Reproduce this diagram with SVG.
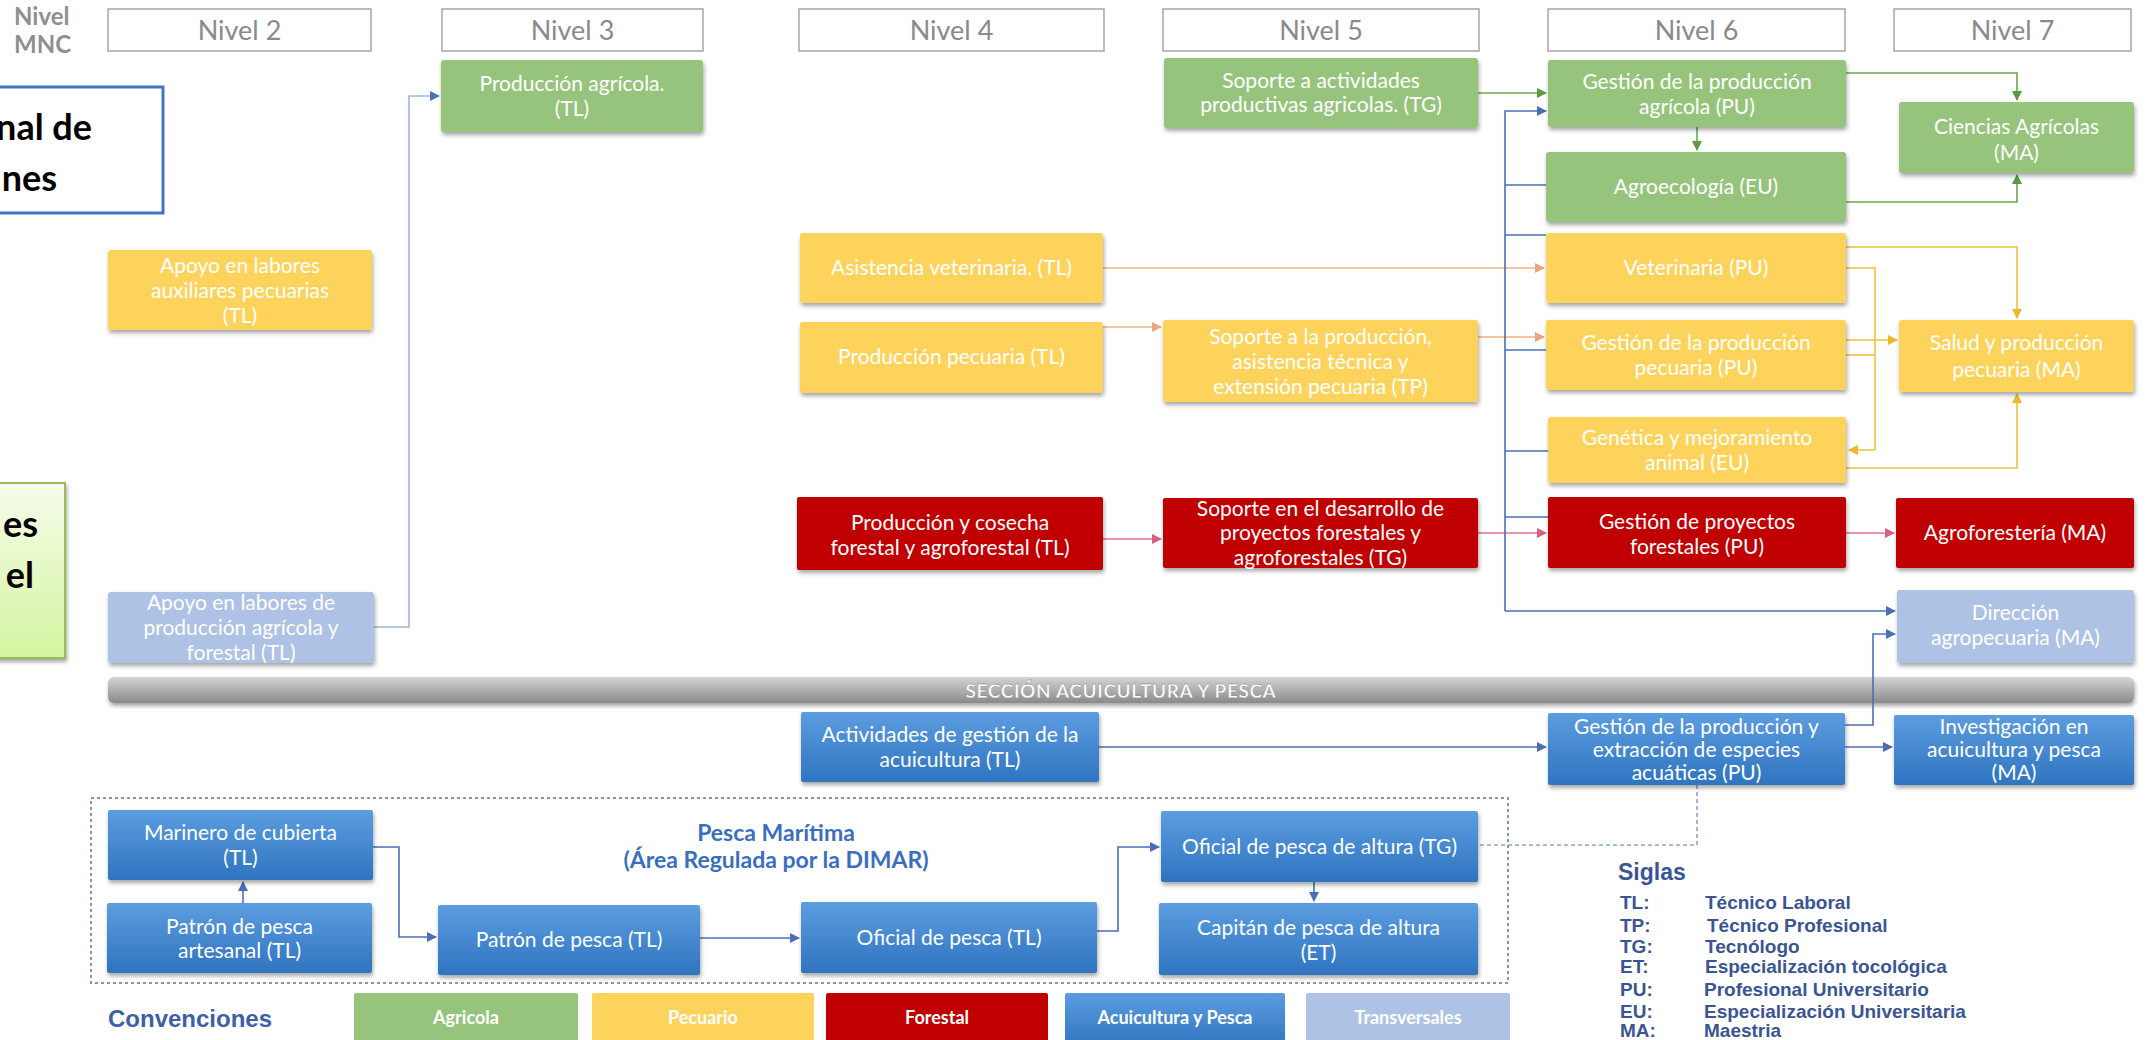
<svg xmlns="http://www.w3.org/2000/svg" width="2149" height="1040" viewBox="0 0 2149 1040">
<defs>
<style>
.hb{fill:#fff;stroke:#a6a6a6;stroke-width:1.5}
.ht{font-family:Lato,"Open Sans",sans-serif;font-size:27px;fill:#8a8a8a;text-anchor:middle}
.g{fill:#97c47c}
.y{fill:#fdd35b}
.r{fill:#c00000}
.b{fill:url(#bg)}
.t{fill:#aec2e6}
.box{filter:url(#sh)}
.nt{font-family:Lato,"Open Sans",sans-serif;font-size:21px;fill:#fff;text-anchor:middle}
.lt{font-family:Lato,"Open Sans",sans-serif;font-size:18px;font-weight:bold;fill:#fff;text-anchor:middle}
.sg{font-family:"Liberation Sans",Arial,sans-serif;font-weight:bold;fill:#3b5592}
.bk{font-family:Lato,"Open Sans",sans-serif;font-weight:bold;font-size:36px;fill:#000;text-anchor:end}
.c{fill:none;stroke-width:1.6}
.cb{stroke:#4a6fb5}
.cg{stroke:#6aa84f}
.cs{stroke:#f4b183}
.cy{stroke:#f2bf3c}
.cp{stroke:#e0708f}
.cl{stroke:#a3b5d6}
</style>
<linearGradient id="bg" x1="0" y1="0" x2="0" y2="1"><stop offset="0" stop-color="#5c9de0"/><stop offset="1" stop-color="#2f74c0"/></linearGradient>
<linearGradient id="gb" x1="0" y1="0" x2="0" y2="1"><stop offset="0" stop-color="#d4d4d4"/><stop offset="0.6" stop-color="#a8a8a8"/><stop offset="1" stop-color="#8a8a8a"/></linearGradient>
<linearGradient id="gg" x1="0" y1="0" x2="0" y2="1"><stop offset="0" stop-color="#f5fcea"/><stop offset="1" stop-color="#d5f4a0"/></linearGradient>
<filter id="sh" x="-5%" y="-10%" width="110%" height="130%"><feDropShadow dx="1" dy="3" stdDeviation="2" flood-color="#000" flood-opacity="0.35"/></filter>
<marker id="mB" viewBox="0 0 10 10" refX="9" refY="5" markerWidth="10" markerHeight="10" markerUnits="userSpaceOnUse" orient="auto"><path d="M0,0 L10,5 L0,10 z" fill="#4a6fb5"/></marker>
<marker id="mG" viewBox="0 0 10 10" refX="9" refY="5" markerWidth="10" markerHeight="10" markerUnits="userSpaceOnUse" orient="auto"><path d="M0,0 L10,5 L0,10 z" fill="#5a9a40"/></marker>
<marker id="mS" viewBox="0 0 10 10" refX="9" refY="5" markerWidth="10" markerHeight="10" markerUnits="userSpaceOnUse" orient="auto"><path d="M0,0 L10,5 L0,10 z" fill="#eea57e"/></marker>
<marker id="mY" viewBox="0 0 10 10" refX="9" refY="5" markerWidth="10" markerHeight="10" markerUnits="userSpaceOnUse" orient="auto"><path d="M0,0 L10,5 L0,10 z" fill="#efb82a"/></marker>
<marker id="mP" viewBox="0 0 10 10" refX="9" refY="5" markerWidth="10" markerHeight="10" markerUnits="userSpaceOnUse" orient="auto"><path d="M0,0 L10,5 L0,10 z" fill="#d9607f"/></marker>
</defs>
<rect x="0" y="0" width="2149" height="1040" fill="#fff"/>

<!-- left partial frames -->
<g id="frame-blue">
<rect x="-20" y="87" width="183" height="126" fill="#fff" stroke="#4472c4" stroke-width="3"/>
<text class="bk" x="92" y="140">nal de</text>
<text class="bk" x="57" y="191">nes</text>
</g>
<g id="frame-green">
<rect x="-20" y="483" width="85" height="175" fill="url(#gg)" stroke="#9bbb59" stroke-width="2" filter="url(#sh)"/>
<text class="bk" x="38" y="537">es</text>
<text class="bk" x="34" y="588">el</text>
</g>

<!-- header -->
<g id="header">
<text font-family="Lato,'Open Sans',sans-serif" font-size="24" font-weight="bold" fill="#8f8f8f" x="14" y="25">Nivel</text>
<text font-family="Lato,'Open Sans',sans-serif" font-size="24" font-weight="bold" fill="#8f8f8f" x="14" y="53">MNC</text>
<rect class="hb" x="108" y="9" width="263" height="42"/><text class="ht" x="239.5" y="40">Nivel 2</text>
<rect class="hb" x="442" y="9" width="261" height="42"/><text class="ht" x="572.5" y="40">Nivel 3</text>
<rect class="hb" x="799" y="9" width="305" height="42"/><text class="ht" x="951.5" y="40">Nivel 4</text>
<rect class="hb" x="1163" y="9" width="316" height="42"/><text class="ht" x="1321" y="40">Nivel 5</text>
<rect class="hb" x="1548" y="9" width="297" height="42"/><text class="ht" x="1696.5" y="40">Nivel 6</text>
<rect class="hb" x="1894" y="9" width="237" height="42"/><text class="ht" x="2012.5" y="40">Nivel 7</text>
</g>

<!-- section band -->
<g id="band">
<rect x="108" y="677" width="2026" height="26" rx="6" fill="url(#gb)" filter="url(#sh)"/>
<text x="1121" y="698" font-family="Lato,'Open Sans',sans-serif" font-weight="bold" font-size="19" letter-spacing="0.6" fill="#fff" text-anchor="middle" stroke="#777" stroke-width="0.3">SECCIÓN  ACUICULTURA  Y PESCA</text>
</g>

<!-- dotted frame -->
<g id="pesca-maritima">
<rect x="91" y="798" width="1417" height="185" fill="none" stroke="#8496b5" stroke-width="2" stroke-dasharray="3 3"/>
<text font-family="Lato,'Open Sans',sans-serif" font-weight="bold" font-size="23" fill="#3a6fc0" text-anchor="middle"><tspan x="776" y="841">Pesca  Marítima</tspan><tspan x="776" y="868">(Área Regulada por la DIMAR)</tspan></text>
</g>

<!-- connectors -->
<g id="connectors">
<path class="c cl" d="M374,627 H409 V96 H439" marker-end="url(#mB)"/>
<path class="c cg" d="M1478,93 H1546" marker-end="url(#mG)"/>
<path class="c cg" d="M1697,127 V150" marker-end="url(#mG)"/>
<path class="c cg" d="M1846,73 H2017 V100" marker-end="url(#mG)"/>
<path class="c cg" d="M1846,202 H2017 V175" marker-end="url(#mG)"/>
<path class="c cs" d="M1103,268 H1544" marker-end="url(#mS)"/>
<path class="c cs" d="M1103,327 H1161" marker-end="url(#mS)"/>
<path class="c cs" d="M1478,337 H1544" marker-end="url(#mS)"/>
<path class="c cy" d="M1846,247 H2017 V318" marker-end="url(#mY)"/>
<path class="c cy" d="M1846,268 H1875 V450 H1849" marker-end="url(#mY)"/>
<path class="c cy" d="M1846,340 H1897" marker-end="url(#mY)"/>
<path class="c cy" d="M1846,355 H1875"/>
<path class="c cy" d="M1846,468 H2017 V394" marker-end="url(#mY)"/>
<path class="c cp" d="M1103,539 H1161" marker-end="url(#mP)"/>
<path class="c cp" d="M1478,533 H1546" marker-end="url(#mP)"/>
<path class="c cp" d="M1846,533 H1894" marker-end="url(#mP)"/>
<path class="c cb" d="M1505,611 V111 H1546" marker-end="url(#mB)"/>
<path class="c cb" d="M1505,611 H1895" marker-end="url(#mB)"/>
<path class="c cb" d="M1505,185 H1546 M1505,235 H1546 M1505,350 H1546 M1505,451 H1548 M1505,517 H1548"/>
<path class="c cb" d="M1099,747 H1546" marker-end="url(#mB)"/>
<path class="c cb" d="M1845,747 H1892" marker-end="url(#mB)"/>
<path class="c cb" d="M1845,725 H1873 V634 H1895" marker-end="url(#mB)"/>
<path class="c" stroke="#8fa3c9" stroke-dasharray="4 3" d="M1697,785 V845 H1478"/>
<path class="c cb" d="M243,903 V882" marker-end="url(#mB)"/>
<path class="c cb" d="M373,847 H399 V937 H436" marker-end="url(#mB)"/>
<path class="c cb" d="M700,938 H799" marker-end="url(#mB)"/>
<path class="c cb" d="M1097,931 H1118 V847 H1159" marker-end="url(#mB)"/>
<path class="c cb" d="M1314,882 V901" marker-end="url(#mB)"/>
</g>

<!-- nodes -->
<g id="n-prod-agricola"><rect class="g box" x="441" y="60" width="262" height="72" rx="3"/><text class="nt"><tspan x="572" y="91">Producción agrícola.</tspan><tspan x="572" y="116">(TL)</tspan></text></g>
<g id="n-apoyo-aux"><rect class="y box" x="108" y="250" width="264" height="80" rx="3"/><text class="nt"><tspan x="240" y="273">Apoyo en labores</tspan><tspan x="240" y="298">auxiliares pecuarias</tspan><tspan x="240" y="323">(TL)</tspan></text></g>
<g id="n-apoyo-prod"><rect class="t box" x="108" y="592" width="266" height="71" rx="3"/><text class="nt"><tspan x="241" y="610">Apoyo en labores de</tspan><tspan x="241" y="635">producción agrícola y</tspan><tspan x="241" y="660">forestal (TL)</tspan></text></g>
<g id="n-asistencia"><rect class="y box" x="800" y="233" width="303" height="70" rx="3"/><text class="nt" x="951.5" y="275">Asistencia veterinaria. (TL)</text></g>
<g id="n-prod-pecuaria"><rect class="y box" x="800" y="322" width="303" height="71" rx="3"/><text class="nt" x="951.5" y="364">Producción pecuaria (TL)</text></g>
<g id="n-prod-forestal"><rect class="r box" x="797" y="497" width="306" height="73" rx="2"/><text class="nt"><tspan x="950" y="530">Producción y cosecha</tspan><tspan x="950" y="555">forestal y agroforestal (TL)</tspan></text></g>
<g id="n-soporte-act"><rect class="g box" x="1164" y="58" width="314" height="70" rx="3"/><text class="nt"><tspan x="1321" y="88">Soporte a actividades</tspan><tspan x="1321" y="112">productivas agricolas. (TG)</tspan></text></g>
<g id="n-soporte-prod"><rect class="y box" x="1163" y="320" width="315" height="82" rx="3"/><text class="nt"><tspan x="1320.5" y="344">Soporte a la producción,</tspan><tspan x="1320.5" y="369">asistencia técnica y</tspan><tspan x="1320.5" y="394">extensión pecuaria (TP)</tspan></text></g>
<g id="n-soporte-des"><rect class="r box" x="1163" y="498" width="315" height="70" rx="2"/><text class="nt"><tspan x="1320.5" y="516">Soporte en el desarrollo de</tspan><tspan x="1320.5" y="540">proyectos forestales y</tspan><tspan x="1320.5" y="565">agroforestales (TG)</tspan></text></g>
<g id="n-gestion-agri"><rect class="g box" x="1548" y="60" width="298" height="67" rx="3"/><text class="nt"><tspan x="1697" y="89">Gestión de  la producción</tspan><tspan x="1697" y="114">agrícola (PU)</tspan></text></g>
<g id="n-agroecologia"><rect class="g box" x="1546" y="152" width="300" height="70" rx="3"/><text class="nt" x="1696" y="194">Agroecología (EU)</text></g>
<g id="n-veterinaria"><rect class="y box" x="1546" y="233" width="300" height="70" rx="3"/><text class="nt" x="1696" y="275">Veterinaria (PU)</text></g>
<g id="n-gestion-pec"><rect class="y box" x="1546" y="320" width="300" height="70" rx="3"/><text class="nt"><tspan x="1696" y="350">Gestión de la producción</tspan><tspan x="1696" y="375">pecuaria (PU)</tspan></text></g>
<g id="n-genetica"><rect class="y box" x="1548" y="417" width="298" height="66" rx="3"/><text class="nt"><tspan x="1697" y="445">Genética y mejoramiento</tspan><tspan x="1697" y="470">animal  (EU)</tspan></text></g>
<g id="n-gestion-proy"><rect class="r box" x="1548" y="497" width="298" height="71" rx="2"/><text class="nt"><tspan x="1697" y="529">Gestión de proyectos</tspan><tspan x="1697" y="554">forestales (PU)</tspan></text></g>
<g id="n-ciencias"><rect class="g box" x="1899" y="102" width="235" height="71" rx="3"/><text class="nt"><tspan x="2016.5" y="134">Ciencias Agrícolas</tspan><tspan x="2016.5" y="160">(MA)</tspan></text></g>
<g id="n-salud"><rect class="y box" x="1899" y="320" width="235" height="72" rx="3"/><text class="nt"><tspan x="2016.5" y="350">Salud y producción</tspan><tspan x="2016.5" y="377">pecuaria (MA)</tspan></text></g>
<g id="n-agroforesteria"><rect class="r box" x="1896" y="498" width="238" height="70" rx="2"/><text class="nt" x="2015" y="540">Agroforestería (MA)</text></g>
<g id="n-direccion"><rect class="t box" x="1897" y="590" width="237" height="73" rx="3"/><text class="nt"><tspan x="2015.5" y="620">Dirección</tspan><tspan x="2015.5" y="645">agropecuaria (MA)</tspan></text></g>
<g id="n-actividades"><rect class="b box" x="801" y="712" width="298" height="70" rx="2"/><text class="nt"><tspan x="950" y="742">Actividades de gestión de la</tspan><tspan x="950" y="767">acuicultura (TL)</tspan></text></g>
<g id="n-gestion-extr"><rect class="b box" x="1548" y="713" width="297" height="72" rx="2"/><text class="nt"><tspan x="1696.5" y="734">Gestión de la producción y</tspan><tspan x="1696.5" y="757">extracción de especies</tspan><tspan x="1696.5" y="780">acuáticas (PU)</tspan></text></g>
<g id="n-investigacion"><rect class="b box" x="1894" y="715" width="240" height="70" rx="2"/><text class="nt"><tspan x="2014" y="734">Investigación en</tspan><tspan x="2014" y="757">acuicultura y pesca</tspan><tspan x="2014" y="780">(MA)</tspan></text></g>
<g id="n-marinero"><rect class="b box" x="108" y="810" width="265" height="70" rx="2"/><text class="nt"><tspan x="240.5" y="840">Marinero de cubierta</tspan><tspan x="240.5" y="865">(TL)</tspan></text></g>
<g id="n-patron-art"><rect class="b box" x="107" y="903" width="265" height="70" rx="2"/><text class="nt"><tspan x="239.5" y="934">Patrón de pesca</tspan><tspan x="239.5" y="958">artesanal (TL)</tspan></text></g>
<g id="n-patron"><rect class="b box" x="438" y="905" width="262" height="70" rx="2"/><text class="nt" x="569" y="947">Patrón de pesca (TL)</text></g>
<g id="n-oficial"><rect class="b box" x="801" y="902" width="296" height="71" rx="2"/><text class="nt" x="949" y="945">Oficial de pesca (TL)</text></g>
<g id="n-oficial-alt"><rect class="b box" x="1161" y="811" width="317" height="71" rx="2"/><text class="nt" x="1319.5" y="854">Oficial de pesca de altura (TG)</text></g>
<g id="n-capitan"><rect class="b box" x="1159" y="903" width="319" height="72" rx="2"/><text class="nt"><tspan x="1318.5" y="935">Capitán de pesca de altura</tspan><tspan x="1318.5" y="960">(ET)</tspan></text></g>

<!-- legend -->
<g id="legend">
<text x="108" y="1027" font-family="'Liberation Sans',Arial,sans-serif" font-weight="bold" font-size="24" fill="#3f5ea8">Convenciones</text>
<rect class="g" x="354" y="993" width="224" height="55" rx="2"/><text class="lt" x="466" y="1024">Agricola</text>
<rect class="y" x="592" y="993" width="222" height="55" rx="2"/><text class="lt" x="703" y="1024">Pecuario</text>
<rect class="r" x="826" y="993" width="222" height="55" rx="2"/><text class="lt" x="937" y="1024">Forestal</text>
<rect class="b" x="1065" y="993" width="220" height="55" rx="2"/><text class="lt" x="1175" y="1024">Acuicultura y Pesca</text>
<rect class="t" x="1306" y="993" width="204" height="55" rx="2"/><text class="lt" x="1408" y="1024">Transversales</text>
</g>

<g id="siglas">
<text class="sg" x="1618" y="880" font-size="23">Siglas</text>
<g font-size="19" class="sg">
<text x="1620" y="909">TL:</text><text x="1705" y="909">Técnico Laboral</text>
<text x="1620" y="932">TP:</text><text x="1707" y="932">Técnico Profesional</text>
<text x="1620" y="953">TG:</text><text x="1705" y="953">Tecnólogo</text>
<text x="1620" y="973">ET:</text><text x="1705" y="973">Especialización tocológica</text>
<text x="1620" y="996">PU:</text><text x="1704" y="996">Profesional Universitario</text>
<text x="1620" y="1018">EU:</text><text x="1704" y="1018">Especialización Universitaria</text>
<text x="1620" y="1037">MA:</text><text x="1704" y="1037">Maestria</text>
</g>
</g>
</svg>
